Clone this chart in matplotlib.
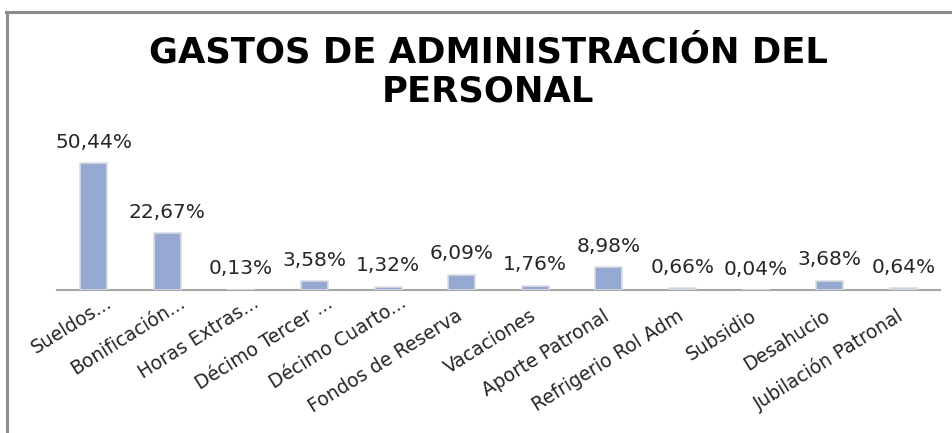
import matplotlib
matplotlib.use("Agg")
import matplotlib.pyplot as plt
from matplotlib.lines import Line2D
from matplotlib.transforms import ScaledTranslation, blended_transform_factory

categories = ["Sueldos...", "Bonificación...", "Horas Extras...", "Décimo Tercer ...",
              "Décimo Cuarto...", "Fondos de Reserva", "Vacaciones", "Aporte Patronal",
              "Refrigerio Rol Adm", "Subsidio", "Desahucio", "Jubilación Patronal"]
values = [50.44, 22.67, 0.13, 3.58, 1.32, 6.09, 1.76, 8.98, 0.66, 0.04, 3.68, 0.64]
title = "GASTOS DE ADMINISTRACIÓN DEL\nPERSONAL"

W, H = 952, 433
fig = plt.figure(figsize=(W / 100, H / 100), dpi=100)
fig.patch.set_facecolor("white")

ax = fig.add_axes([57 / W, (H - 290) / H, (940 - 57) / W, (290 - 139) / H])
x = list(range(len(categories)))
ax.bar(x, values, width=0.37, color="#95A9D2", edgecolor="#DADDE3", linewidth=1.2, zorder=3)
ax.set_xlim(-0.5, len(categories) - 0.5)
ax.set_ylim(0, 60)
for s in ["top", "right", "left"]:
    ax.spines[s].set_visible(False)
ax.spines["bottom"].set_color("#A6A6A6")
ax.spines["bottom"].set_linewidth(1.5)
ax.set_yticks([])
ax.set_xticks([])

lab_font = "DejaVu Sans"
for xi, v in zip(x, values):
    ax.annotate(f"{v:.2f}".replace(".", ",") + "%", (xi, v), xytext=(0, 15),
                textcoords="offset points", ha="center", va="center",
                fontsize=14.5, family=lab_font, color="#262626")

base = blended_transform_factory(ax.transData, ax.transAxes)
for xi, lab in zip(x, categories):
    if lab.endswith("..."):
        dx, dy = 0.19, -0.16
    else:
        dx, dy = 0.02, -0.29
    tr = base + ScaledTranslation(dx, dy, fig.dpi_scale_trans)
    ax.text(xi, 0, lab, transform=tr, rotation=32, rotation_mode="anchor",
            ha="right", va="baseline", fontsize=13.5, family=lab_font, color="#262626",
            clip_on=False)

fig.text(0.513, 1 - 72 / H, title, ha="center", va="center", fontsize=25.5,
         fontweight="bold", family="DejaVu Sans", color="black", linespacing=1.22)

fig.add_artist(Line2D([6 / W, 1], [1 - 12 / H, 1 - 12 / H], color="#8C8C8C", lw=2.2))
fig.add_artist(Line2D([7 / W, 7 / W], [0, 1 - 12 / H], color="#8C8C8C", lw=2.2))

fig.savefig("out.png", dpi=100, facecolor="white")
